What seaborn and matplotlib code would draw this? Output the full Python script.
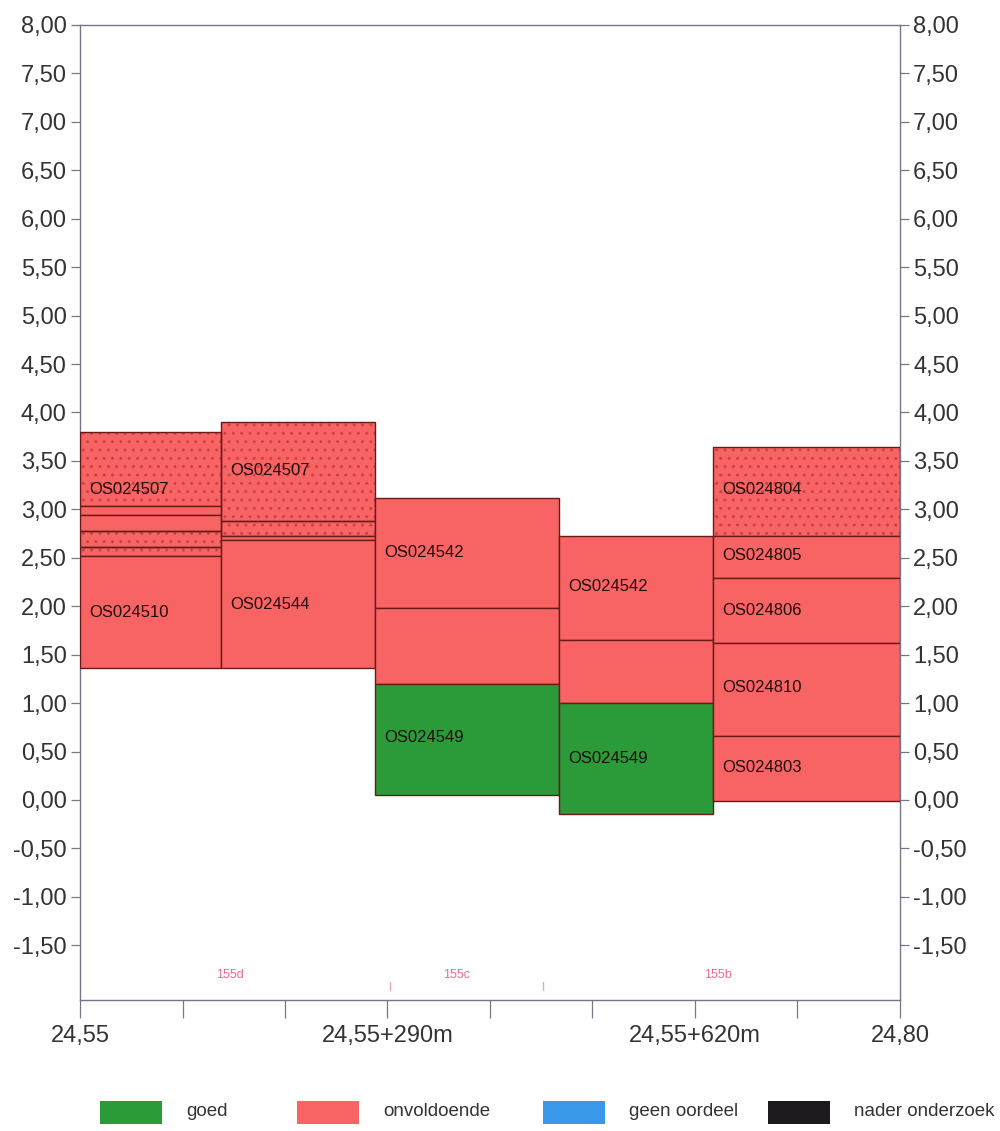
# Kwaliteitsbeoordeling lagen per vak (24,55 - 24,80)

import matplotlib
matplotlib.use("Agg")
import matplotlib.pyplot as plt
import seaborn as sns
from matplotlib.patches import Rectangle

# column boundaries along the route (in tick units, 0..8)
col_edges = [0.0, 1.38, 2.88, 4.67, 6.18, 8.0]

# layers: column index, bottom, top, status, dotted
layer_col = [0, 0, 0, 0, 0, 0,
             1, 1, 1, 1,
             2, 2, 2,
             3, 3, 3,
             4, 4, 4, 4, 4]
layer_bottom = [3.03, 2.94, 2.78, 2.61, 2.52, 1.36,
                2.88, 2.73, 2.68, 1.36,
                1.98, 1.20, 0.05,
                1.65, 1.00, -0.145,
                2.72, 2.29, 1.62, 0.66, -0.01]
layer_top = [3.80, 3.03, 2.94, 2.78, 2.61, 2.52,
             3.90, 2.88, 2.73, 2.68,
             3.12, 1.98, 1.20,
             2.72, 1.65, 1.00,
             3.64, 2.72, 2.29, 1.62, 0.66]
layer_status = ["onvoldoende"] * 6 + ["onvoldoende"] * 4 + \
               ["onvoldoende", "onvoldoende", "goed"] + \
               ["onvoldoende", "onvoldoende", "goed"] + \
               ["onvoldoende"] * 5
layer_dotted = [True, False, False, True, True, False,
                True, True, False, False,
                False, False, False,
                False, False, False,
                True, False, False, False, False]

# sample labels
label_col = [0, 0, 1, 1, 2, 2, 3, 3, 4, 4, 4, 4, 4]
label_y = [3.21, 1.94, 3.40, 2.02, 2.55, 0.64, 2.20, 0.43, 3.21, 2.52, 1.96, 1.16, 0.33]
label_text = ["OS024507", "OS024510", "OS024507", "OS024544", "OS024542", "OS024549",
              "OS024542", "OS024549", "OS024804", "OS024805", "OS024806", "OS024810",
              "OS024803"]

# section labels
section_x = [1.46, 3.67, 6.22]
section_text = ["155d", "155c", "155b"]
section_marks = [3.02, 4.52]

# axis ticks
y_ticks = [-1.5, -1.0, -0.5, 0.0, 0.5, 1.0, 1.5, 2.0, 2.5, 3.0, 3.5, 4.0,
           4.5, 5.0, 5.5, 6.0, 6.5, 7.0, 7.5, 8.0]
x_ticks = [0, 1, 2, 3, 4, 5, 6, 7, 8]
x_labels = ["24,55", "", "", "24,55+290m", "", "", "24,55+620m", "", "24,80"]

# legend
legend_names = ["goed", "onvoldoende", "geen oordeel", "nader onderzoek"]
colors = {"goed": "#2b9a38", "onvoldoende": "#f86464",
          "geen oordeel": "#3a98ea", "nader onderzoek": "#1c1a1e"}

sns.set_theme(style="white")
plt.rcParams["font.family"] = ["Liberation Sans", "DejaVu Sans"]

fig = plt.figure(figsize=(10, 11.31), dpi=100)
ax = fig.add_axes([0.08, 1 - 1000 / 1131, 0.82, 975 / 1131])

edge_col = "#6a1818"
dot_col = "#cc4444"
for c, b, t, s, d in zip(layer_col, layer_bottom, layer_top, layer_status, layer_dotted):
    x0 = col_edges[c]
    w = col_edges[c + 1] - x0
    if d:
        ax.bar(x0, t - b, width=w, bottom=b, align="edge", color=colors[s],
               edgecolor=dot_col, linewidth=0, hatch="..", zorder=2)
        ax.bar(x0, t - b, width=w, bottom=b, align="edge", fill=False,
               edgecolor=edge_col, linewidth=1.0, zorder=3)
    else:
        ax.bar(x0, t - b, width=w, bottom=b, align="edge", color=colors[s],
               edgecolor=edge_col, linewidth=1.0, zorder=3)

for c, y, txt in zip(label_col, label_y, label_text):
    ax.text(col_edges[c] + 0.09, y, txt, fontsize=12, color="#1e0c0c",
            va="center", ha="left", zorder=5)

for x, txt in zip(section_x, section_text):
    ax.text(x, -1.81, txt, fontsize=9, color="#f06a8a", ha="center", va="center")
for x in section_marks:
    ax.plot([x, x], [-1.96, -1.88], color="#f4a0b4", lw=1)

ax.set_xlim(0, 8)
ax.set_ylim(-2.065, 8.0)
ax.set_yticks(y_ticks)
ax.set_yticklabels([f"{v:.2f}".replace(".", ",") for v in y_ticks])
ax.set_xticks(x_ticks)
ax.set_xticklabels(x_labels)

spine_col = "#7a7488"
for sp in ax.spines.values():
    sp.set_color(spine_col)
    sp.set_linewidth(1.0)

ax.tick_params(axis="y", which="both", left=True, right=True, labelleft=True,
               labelright=True, direction="out", length=6.5, width=0.9,
               color=spine_col, labelsize=17, labelcolor="#333333", pad=3)
ax.tick_params(axis="x", direction="out", length=13, width=0.9, color=spine_col,
               labelsize=17, labelcolor="#333333", pad=5, bottom=True)
ax.grid(False)

# legend drawn in figure pixels
leg_x = [100, 297, 543, 768]
for x, name in zip(leg_x, legend_names):
    fig.add_artist(Rectangle((x / 1000, 1 - 1124 / 1131), 62 / 1000, 23 / 1131,
                             transform=fig.transFigure, facecolor=colors[name],
                             edgecolor="none"))
    fig.text((x + 86) / 1000, 1 - 1112 / 1131, name, fontsize=13.5,
             color="#333333", ha="left", va="center")

plt.savefig("out.png", dpi=100)
